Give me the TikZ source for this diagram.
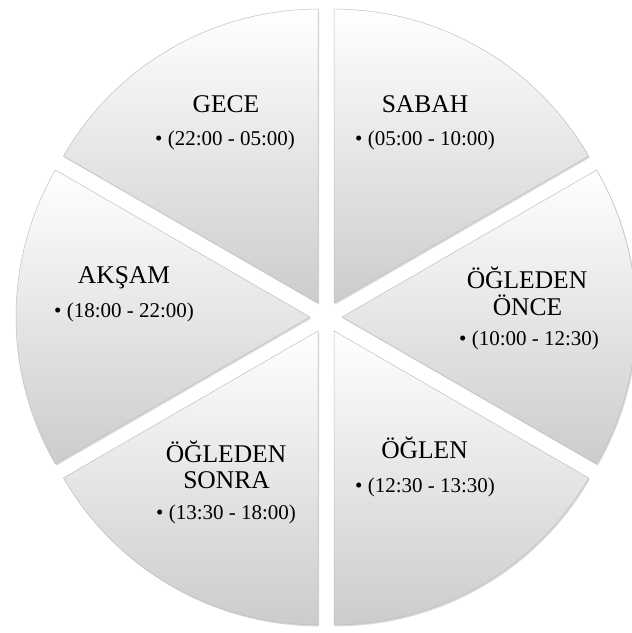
\documentclass[tikz,border=0pt]{standalone}
\usepackage{fontspec}
\setmainfont{Liberation Serif}
\usetikzlibrary{shadows}
\begin{document}
\begin{tikzpicture}[x=1pt,y=-1pt,
  sector/.style={draw=gray!50, line width=0.5pt, top color=white, bottom color=gray!40,
    drop shadow={opacity=0.3, shadow xshift=1.2pt, shadow yshift=-1.5pt}},
  ttl/.style={anchor=base, inner sep=0pt, font=\fontsize{25.5}{28}\selectfont},
  itm/.style={anchor=base west, inner sep=0pt, font=\fontsize{21}{24}\selectfont}]
\useasboundingbox (0,0) rectangle (632,633);
% sectors (image coordinates, y downwards)
\path[sector] (334,303.1) -- ++(-90:294) arc[start angle=-90, end angle=-30, radius=294] -- cycle; % SABAH
\path[sector] (342,317) -- ++(-30:294) arc[start angle=-30, end angle=30, radius=294] -- cycle;   % ONCE
\path[sector] (334,330.9) -- ++(30:294) arc[start angle=30, end angle=90, radius=294] -- cycle;   % OGLEN
\path[sector] (318,330.9) -- ++(90:294) arc[start angle=90, end angle=150, radius=294] -- cycle;  % SONRA
\path[sector] (310,317) -- ++(150:294) arc[start angle=150, end angle=210, radius=294] -- cycle;  % AKSAM
\path[sector] (318,303.1) -- ++(210:294) arc[start angle=210, end angle=270, radius=294] -- cycle; % GECE
% labels
\node[ttl] (geceT) at (226,112) {GECE};
\node[itm] (geceI) at (155,145) {• (22:00 - 05:00)};
\node[ttl] (sabahT) at (425,112) {SABAH};
\node[itm] (sabahI) at (355,145) {• (05:00 - 10:00)};
\node[ttl] (onceT1) at (527,288) {ÖĞLEDEN};
\node[ttl] (onceT2) at (527.5,315) {ÖNCE};
\node[itm] (onceI) at (459,345) {• (10:00 - 12:30)};
\node[ttl] (aksamT) at (124,283) {AKŞAM};
\node[itm] (aksamI) at (54,317) {• (18:00 - 22:00)};
\node[ttl] (oglenT) at (424.5,458) {ÖĞLEN};
\node[itm] (oglenI) at (355,492) {• (12:30 - 13:30)};
\node[ttl] (sonraT1) at (226,462) {ÖĞLEDEN};
\node[ttl] (sonraT2) at (226.5,488) {SONRA};
\node[itm] (sonraI) at (156,519) {• (13:30 - 18:00)};
\end{tikzpicture}
\end{document}
